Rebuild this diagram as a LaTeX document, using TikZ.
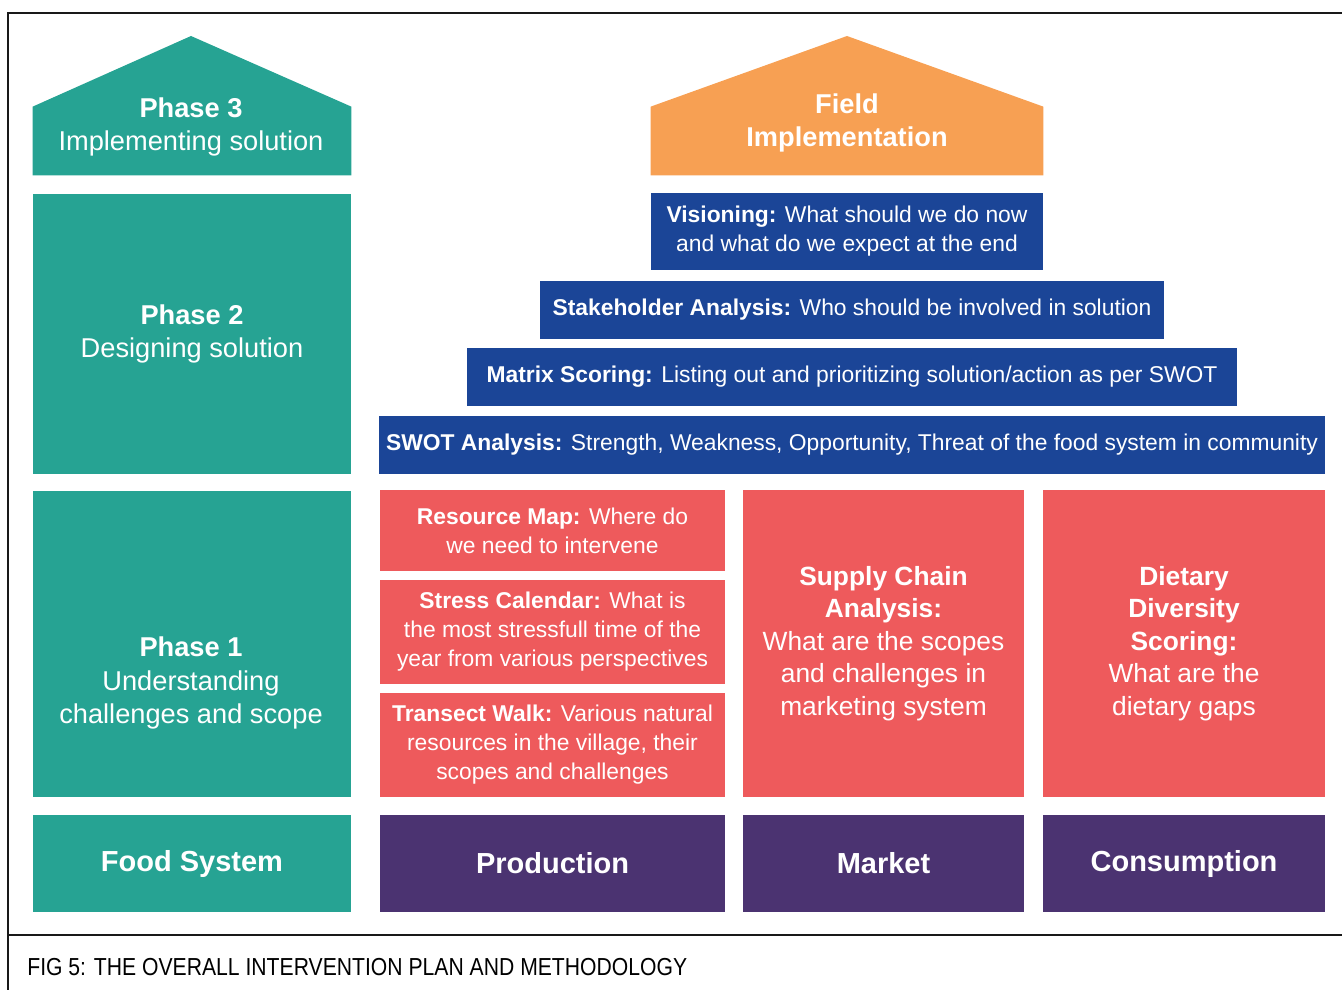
\documentclass[tikz,border=0pt]{standalone}
\usepackage{fontspec}
\setmainfont{Liberation Sans}
\usetikzlibrary{positioning,calc}
\definecolor{phaseteal}{RGB}{38,163,147}
\definecolor{fieldorange}{RGB}{247,160,83}
\definecolor{toolblue}{RGB}{27,69,151}
\definecolor{fieldred}{RGB}{238,90,92}
\definecolor{pillarpurple}{RGB}{75,51,113}
\tikzset{
  cell/.style 2 args={minimum width=#1*0.02cm, minimum height=#2*0.02cm},
  box/.style={rectangle, inner sep=0pt, text=white, align=center},
  phase/.style={box, fill=phaseteal, font=\fontsize{15.5}{19}\selectfont},
  phasetext/.style={box, font=\fontsize{15.5}{19}\selectfont},
  tool/.style={box, fill=toolblue, font=\fontsize{13}{16.5}\selectfont},
  survey/.style={box, fill=fieldred, font=\fontsize{13}{16.5}\selectfont},
  study/.style={box, fill=fieldred, font=\fontsize{15}{18.5}\selectfont},
  pillar/.style={box, fill=pillarpurple, font=\bfseries\fontsize{16.5}{19}\selectfont},
  frame/.style={line width=1.2pt, black!90}
}

\begin{document}
\begin{tikzpicture}[x=0.02cm, y=-0.02cm]
  \useasboundingbox (0,0) rectangle (1342,990);

  % frame and caption
  \draw[frame] (8,990) -- (8,13) -- (1342,13);
  \draw[frame] (8,935) -- (1342,935);
  \node[anchor=west, inner sep=0pt, font=\fontsize{14}{16}\selectfont] (Caption) at (27,967)
    {\scalebox{0.86}[1]{FIG 5: THE OVERALL INTERVENTION PLAN AND METHODOLOGY}};

  % phases
  \node[box, cell={318}{68}] (P3) at (192,141) {};
  \fill[phaseteal] (P3.south west) -- (P3.north west) -- (191,36)
    -- (P3.north east) -- (P3.south east) -- cycle;
  \node[phasetext] (P3t) at (191,127) {\textbf{Phase 3}\\Implementing solution};
  \node[phase, cell={318}{280}] (P2) at (192,334) {\textbf{Phase 2}\\Designing solution};
  \node[phase, cell={318}{306}] (P1) at (192,644) {};
  \node[phasetext] (P1t) at (191,683) {\textbf{Phase 1}\\Understanding\\challenges and scope};
  \node[phase, cell={318}{97}, font=\bfseries\fontsize{16.5}{19}\selectfont] (Food) at (192,863.5) {Food System};

  % field implementation
  \node[box, cell={392}{68}] (Field) at (847,141) {};
  \fill[fieldorange] (Field.south west) -- (Field.north west) -- (847,36)
    -- (Field.north east) -- (Field.south east) -- cycle;
  \node[phasetext, font=\bfseries\fontsize{15.5}{19}\selectfont] (Fieldt) at (847,123) {Field\\Implementation};

  \node[tool, cell={392}{77}] (Vision) at (847,231.5)
    {\textbf{Visioning:} What should we do now\\and what do we expect at the end};
  \node[tool, cell={624}{58}] (Stake) at (852,310)
    {\textbf{Stakeholder Analysis:} Who should be involved in solution};
  \node[tool, cell={770}{58}] (Matrix) at (852,377)
    {\textbf{Matrix Scoring:} Listing out and prioritizing solution/action as per SWOT};
  \node[tool, cell={946}{58}] (SWOT) at (852,445)
    {\textbf{SWOT Analysis:} Strength, Weakness, Opportunity, Threat of the food system in community};

  % production tools
  \node[survey, cell={345}{81}] (Resource) at (552.5,530.5)
    {\textbf{Resource Map:} Where do\\we need to intervene};
  \node[survey, cell={345}{104}] (Stress) at (552.5,632)
    {\textbf{Stress Calendar:} What is\\the most stressfull time of the\\year from various perspectives};
  \node[survey, cell={345}{104}] (Transect) at (552.5,745)
    {\textbf{Transect Walk:} Various natural\\resources in the village, their\\scopes and challenges};
  \node[study, cell={281}{307}] (Supply) at (883.5,643.5)
    {\textbf{Supply Chain}\\\textbf{Analysis:}\\What are the scopes\\and challenges in\\marketing system};
  \node[study, cell={282}{307}] (Dietary) at (1184,643.5)
    {\textbf{Dietary}\\\textbf{Diversity}\\\textbf{Scoring:}\\What are the\\dietary gaps};

  % pillars
  \node[pillar, cell={345}{97}] (Production) at (552.5,863.5) {Production};
  \node[pillar, cell={281}{97}] (Market) at (883.5,863.5) {Market};
  \node[pillar, cell={282}{97}] (Consumption) at (1184,863.5) {Consumption};
\end{tikzpicture}
\end{document}
